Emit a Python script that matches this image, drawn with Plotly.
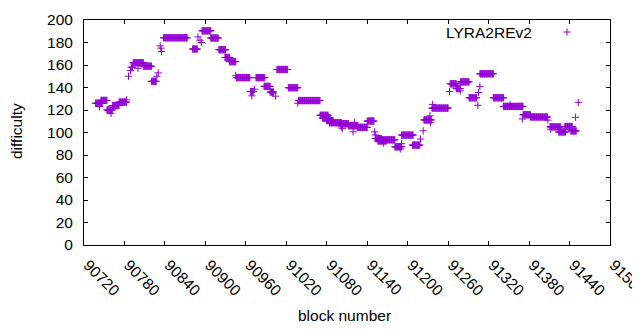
import plotly.graph_objects as go

# Runs of equal difficulty: first block, last block, difficulty
run_start = [90737, 90743, 90745, 90754, 90760, 90762, 90772, 90783, 90786, 90789,
             90790, 90793, 90800, 90808, 90820, 90828, 90830, 90833, 90834, 90835,
             90838, 90881, 90889, 90892, 90894, 90895, 90908, 90920, 90929, 90936,
             90945, 90946, 90967, 90969, 90973, 90975, 90987, 90996, 91000, 91004,
             91006, 91023, 91037, 91038, 91070, 91074, 91080, 91084, 91100, 91102,
             91103, 91112, 91119, 91121, 91125, 91140, 91151, 91152, 91152, 91156,
             91161, 91164, 91181, 91189, 91191, 91191, 91207, 91219, 91223, 91224,
             91233, 91234, 91237, 91236, 91262, 91263, 91272, 91278, 91278, 91291,
             91304, 91305, 91307, 91307, 91327, 91342, 91352, 91370, 91371, 91382,
             91408, 91411, 91412, 91424, 91433, 91442, 91449, 91453]
run_end = [90747, 90743, 90754, 90762, 90760, 90772, 90783, 90783, 90786, 90789,
           90792, 90808, 90800, 90820, 90827, 90828, 90830, 90833, 90834, 90835,
           90873, 90888, 90889, 90892, 90894, 90908, 90919, 90930, 90936, 90945,
           90945, 90966, 90971, 90969, 90973, 90988, 90996, 91001, 91000, 91004,
           91022, 91037, 91037, 91070, 91082, 91085, 91089, 91102, 91112, 91102,
           91103, 91126, 91119, 91121, 91140, 91150, 91151, 91152, 91161, 91168,
           91181, 91164, 91191, 91189, 91191, 91208, 91218, 91219, 91223, 91235,
           91233, 91234, 91237, 91260, 91262, 91272, 91278, 91278, 91291, 91302,
           91304, 91305, 91307, 91327, 91342, 91371, 91352, 91370, 91382, 91407,
           91408, 91427, 91412, 91434, 91444, 91450, 91449, 91453]
run_value = [126, 123, 128.5, 120, 117, 124, 127, 129, 150, 155,
             158, 162, 157, 159, 145.5, 150, 153, 177, 175, 172,
             184.2, 174.2, 185, 182, 180, 190.4, 184, 173.6, 166.7, 163,
             150.5, 148.8, 136.4, 132.6, 138.5, 148.8, 141, 136, 135, 132.3,
             156, 139.8, 126, 128.4, 115.3, 112.8, 110.6, 108.7, 107.8, 105,
             103.4, 106, 100.6, 109, 104.6, 110.2, 100.6, 97.8, 94.6, 92.5,
             93.5, 90.7, 87.3, 85.4, 90, 97.7, 88.8, 94.2, 101.5, 111.2,
             114.8, 108.7, 125, 121.7, 136.4, 143.3, 139, 137, 145, 130.9,
             124.2, 135.6, 141, 152.2, 130.9, 123.2, 124.6, 112, 115.8, 113.8,
             111, 105, 103, 100.5, 105.3, 101.4, 113.5, 126.8]

x_ticks = [90720, 90780, 90840, 90900, 90960, 91020, 91080, 91140,
           91200, 91260, 91320, 91380, 91440, 91500]
y_ticks = [0, 20, 40, 60, 80, 100, 120, 140, 160, 180, 200]
series_name = "LYRA2REv2"

# decode the runs into one point per block
blocks, diffs = [], []
for s, e, v in zip(run_start, run_end, run_value):
    for b in range(s, e + 1):
        blocks.append(b)
        diffs.append(v)

PURPLE = "#9400D3"
FONT = "Liberation Sans"
FS = 15.5

fig = go.Figure()
fig.add_trace(go.Scatter(
    x=blocks, y=diffs, mode="markers", name=series_name, showlegend=False,
    marker=dict(symbol="cross-thin", size=5.2, color=PURPLE,
                line=dict(width=1, color=PURPLE)),
))

axis_common = dict(showline=True, linecolor="black", linewidth=1, mirror="ticks",
                   ticks="inside", ticklen=4, tickcolor="black", tickwidth=1,
                   showgrid=False, zeroline=False, ticklabeloverflow="allow",
                   tickfont=dict(family=FONT, size=FS, color="black"))

fig.update_xaxes(range=[90720, 91500.01], tickvals=x_ticks,
                 ticktext=[str(t) for t in x_ticks], tickangle=45,
                 ticklabelstandoff=4, ticklabelshift=4, **axis_common)
fig.update_yaxes(range=[0, 200.01], tickvals=y_ticks,
                 ticktext=[str(t) for t in y_ticks], ticklabelstandoff=7,
                 **axis_common)

# page body has an 8px margin, so the figure is offset by (8, 8)
OFF = 8
W, H = 640 - OFF, 330 - OFF
L, T = 84 - OFF, 20 - OFF
PW, PH = 526, 225
R = W - L - PW
B = H - T - PH

def px(x):
    return (x - 84) / PW

def py(y):
    return (245 - y) / PH

fig.update_layout(
    width=W, height=H, margin=dict(l=L, r=R, t=T, b=B, autoexpand=False),
    paper_bgcolor="white", plot_bgcolor="white",
    font=dict(family=FONT, size=FS, color="black"),
    showlegend=False,
    annotations=[
        dict(text="difficulty", xref="paper", yref="paper", x=px(17), y=py(131),
             textangle=-90, showarrow=False, font=dict(family=FONT, size=FS),
             xanchor="center", yanchor="middle"),
        dict(text="block number", xref="paper", yref="paper", x=px(344), y=py(315),
             showarrow=False, font=dict(family=FONT, size=FS),
             xanchor="center", yanchor="middle"),
        dict(text=series_name, xref="paper", yref="paper", x=px(534), y=py(32),
             showarrow=False, font=dict(family=FONT, size=FS),
             xanchor="right", yanchor="middle"),
    ],
    shapes=[
        dict(type="line", xref="paper", yref="paper", x0=px(563.5), x1=px(570.5),
             y0=py(32), y1=py(32), line=dict(color=PURPLE, width=1)),
        dict(type="line", xref="paper", yref="paper", x0=px(567), x1=px(567),
             y0=py(28.5), y1=py(35.5), line=dict(color=PURPLE, width=1)),
    ],
)

fig.write_html("out.html")
